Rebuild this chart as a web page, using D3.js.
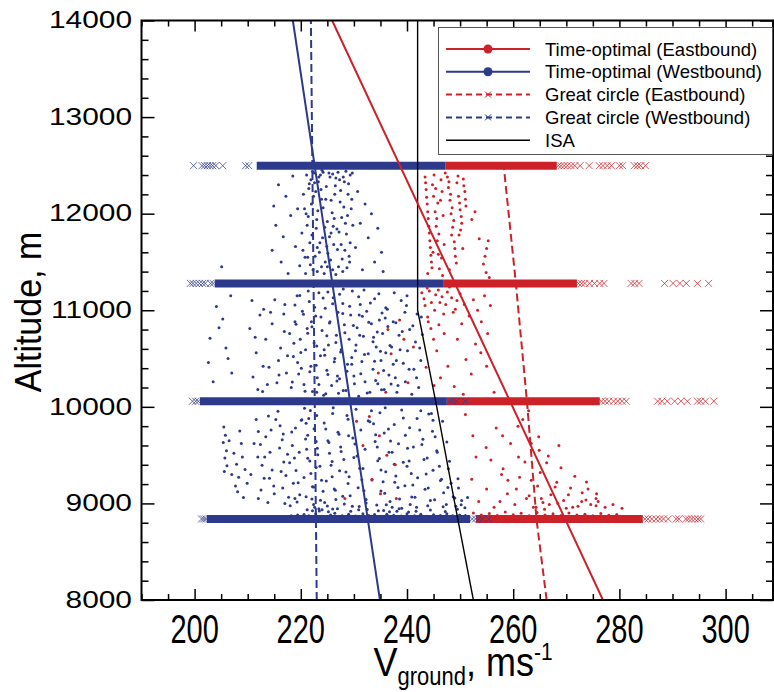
<!DOCTYPE html>
<html>
<head>
<meta charset="utf-8">
<script src="https://cdn.jsdelivr.net/npm/d3@7"></script>
<style>
  body { margin: 0; background: #fff; }
  svg { display: block; font-family: "Liberation Sans", Arial, sans-serif; }
</style>
</head>
<body>
<div id="chart"></div>
<script>
// ---- data ----
const xMajor = [200, 220, 240, 260, 280, 300];
const xMinor = [190, 195, 205, 210, 215, 225, 230, 235, 245, 250, 255, 265, 270, 275, 285, 290, 295, 305];
const yMajor = [8000, 9000, 10000, 11000, 12000, 13000, 14000];
const yMinor = [8200, 8400, 8600, 8800, 9200, 9400, 9600, 9800, 10200, 10400, 10600, 10800,
  11200, 11400, 11600, 11800, 12200, 12400, 12600, 12800, 13200, 13400, 13600, 13800];

// time-optimal bands: [altitude, v from, v to]
const westBands = [[8839, 202.3, 251.9], [10058, 201.0, 247.5], [11278, 203.8, 246.8], [12497, 211.7, 247.2]];
const eastBands = [[8839, 253.0, 284.4], [10058, 247.5, 276.3], [11278, 246.8, 272.0], [12497, 247.2, 268.2]];

// great circle crosses [v, altitude]
const westCross = [
  [201.3, 8839], [201.7, 8839], [202.1, 8839], [252.3, 8839], [252.9, 8839], [253.5, 8839], [254.2, 8839], [255.4, 8839],
  [199.6, 10058], [200.2, 10058], [200.7, 10058], [248.1, 10058], [248.7, 10058], [249.3, 10058], [251.0, 10058],
  [199.2, 11278], [199.7, 11278], [200.3, 11278], [200.9, 11278], [201.5, 11278], [202.0, 11278], [203.0, 11278], [203.5, 11278],
  [199.8, 12497], [201.4, 12497], [201.9, 12497], [202.4, 12497], [202.9, 12497], [203.4, 12497], [204.0, 12497], [205.3, 12497], [209.6, 12497], [210.2, 12497]
];
const eastCross = [
  [268.5, 12497], [269.0, 12497], [269.6, 12497], [270.2, 12497], [270.9, 12497], [271.6, 12497], [272.6, 12497], [274.3, 12497],
  [276.2, 12497], [276.9, 12497], [277.7, 12497], [278.5, 12497], [280.0, 12497], [280.6, 12497], [282.8, 12497], [283.4, 12497], [284.0, 12497], [284.9, 12497],
  [272.3, 11278], [272.9, 11278], [273.5, 11278], [274.4, 11278], [275.3, 11278], [276.3, 11278], [277.1, 11278], [282.2, 11278], [282.9, 11278], [283.7, 11278],
  [288.5, 11278], [290.1, 11278], [291.4, 11278], [292.6, 11278], [294.7, 11278], [296.8, 11278],
  [276.6, 10058], [277.3, 10058], [278.0, 10058], [278.9, 10058], [279.7, 10058], [280.5, 10058], [281.3, 10058], [287.2, 10058], [288.0, 10058],
  [289.0, 10058], [290.4, 10058], [291.6, 10058], [292.8, 10058], [294.7, 10058], [295.3, 10058], [296.2, 10058], [297.8, 10058],
  [284.8, 8839], [285.4, 8839], [286.1, 8839], [286.9, 8839], [287.6, 8839], [288.3, 8839], [289.2, 8839], [290.7, 8839],
  [291.2, 8839], [292.5, 8839], [293.0, 8839], [293.6, 8839], [294.2, 8839], [294.8, 8839], [295.3, 8839]
];

// scattered time-optimal points between flight levels [v, altitude]
const westScatter = [
  [205.5, 9790], [205.8, 9705], [205.4, 9630], [206.0, 9545], [205.7, 9470], [206.1, 9390], [205.6, 9330],
  [207.4, 9520], [207.9, 9405], [208.3, 9270], [207.7, 9180], [208.8, 9620], [209.5, 9350], [209.9, 9210], [209.2, 9060], [208.1, 9120],
  [211.6, 9870], [212.0, 9745], [212.4, 9610], [211.9, 9480], [212.7, 9395], [213.1, 9260], [212.5, 9140], [213.8, 9010], [213.4, 9690], [214.2, 9530], [214.6, 9345], [213.9, 9905], [214.9, 9180],
  [215.7, 9955], [216.1, 9805], [216.5, 9660], [216.0, 9575], [216.8, 9430], [217.2, 9290], [216.6, 9160], [217.7, 9065], [218.0, 8975], [218.4, 9600], [218.8, 9470],
  [219.1, 9340], [219.5, 9215], [219.8, 9090], [220.1, 9860], [218.3, 9740], [217.5, 9510], [219.3, 9015],
  [220.7, 9985], [221.0, 9830], [221.3, 9705], [221.1, 9560], [221.7, 9440], [221.9, 9310], [222.4, 9170], [222.1, 9045], [222.6, 8960], [222.9, 9640], [223.2, 9505],
  [223.6, 9385], [223.9, 9240], [224.2, 9125], [224.5, 9010], [223.0, 9910], [224.7, 9770], [225.1, 9650], [225.4, 9520], [225.7, 9395], [225.9, 9275], [226.3, 9150],
  [226.6, 9040], [226.9, 8945], [227.2, 9715], [227.5, 9585], [224.0, 8935], [225.2, 8915], [223.4, 8945], [222.2, 8925], [221.5, 9880], [226.1, 9990],
  [228.1, 9455], [228.5, 9325], [228.9, 9205], [229.3, 9080], [229.7, 8970], [230.2, 9615], [230.6, 9490], [231.1, 9365], [231.5, 9245], [231.9, 9130], [232.3, 9005],
  [232.7, 9855], [228.7, 9910], [230.9, 8935], [229.0, 9700],
  [233.3, 9960], [233.7, 9825], [234.1, 9710], [234.4, 9585], [234.8, 9465], [235.1, 9345], [235.5, 9225], [235.8, 9105], [236.1, 8985], [236.5, 9770], [236.9, 9645],
  [237.2, 9530], [237.6, 9405], [237.9, 9285], [238.3, 9165], [238.6, 9045], [239.0, 8950], [239.3, 9885], [239.7, 9705], [240.1, 9570], [240.4, 9440], [240.8, 9310],
  [241.1, 9190], [241.5, 9065], [241.8, 8960], [234.6, 8925], [236.7, 8915], [238.1, 8920], [240.3, 8910], [235.9, 9990],
  [242.4, 9760], [242.8, 9610], [243.2, 9455], [243.6, 9305], [244.0, 9160], [244.4, 9030], [244.9, 9860], [245.3, 9690], [245.7, 9530], [246.1, 9385], [246.5, 9250],
  [246.9, 9110], [247.4, 8990], [247.8, 9360], [248.3, 9210], [248.7, 9070], [249.2, 8970], [249.7, 9160], [250.3, 9030], [250.9, 8955], [251.4, 9060], [242.6, 9960], [244.6, 9930],
  [220.6, 8885], [221.5, 8872], [222.8, 8893], [223.9, 8868], [225.6, 8880], [226.4, 8897], [227.8, 8872], [229.0, 8888], [230.3, 8870], [231.7, 8893], [232.8, 8875],
  [233.9, 8884], [235.3, 8867], [236.2, 8889], [237.5, 8877], [238.9, 8870], [240.0, 8893], [241.4, 8872], [242.6, 8888], [243.7, 8868], [245.0, 8882], [246.3, 8874],
  [247.5, 8892], [248.6, 8872], [249.9, 8881], [251.0, 8876], [219.4, 8880], [218.2, 8872],
  [202.6, 10460], [202.9, 10710], [203.5, 10260], [204.1, 11040], [205.3, 10910], [205.9, 10610], [206.3, 10500], [207.0, 10350], [206.8, 11150], [204.6, 10820],
  [210.4, 10810], [211.0, 10310], [211.6, 10560], [212.3, 10950], [212.8, 10160], [213.4, 10700], [214.0, 10410], [214.6, 10860], [215.1, 11110], [215.5, 10250],
  [216.2, 10610], [216.8, 10960], [217.3, 10350], [217.9, 10760], [218.2, 10200], [213.0, 11010], [211.9, 10180], [215.8, 10480], [217.0, 11060],
  [218.6, 10520], [218.9, 10880], [219.3, 11150], [219.6, 10340], [219.9, 10700], [220.3, 10990], [220.6, 10230], [220.9, 10590], [221.2, 10810], [221.6, 11090],
  [221.9, 10420], [222.2, 10160], [222.5, 10660], [222.8, 10940], [223.1, 10300], [223.4, 11180], [223.7, 10530], [224.0, 10790], [224.3, 10120], [224.6, 11020],
  [224.9, 10380], [225.2, 10640], [225.5, 10880], [225.8, 10220], [226.1, 11130], [226.4, 10500], [226.7, 10740], [227.0, 10980], [227.3, 10290], [227.6, 10590],
  [227.9, 11070], [228.2, 10850], [228.5, 10170], [228.8, 10440], [229.1, 10700], [229.4, 10950], [229.7, 11200], [230.0, 10320], [230.3, 10580], [230.6, 10820],
  [230.9, 10110], [231.2, 11060], [231.5, 10470], [231.8, 10730], [232.1, 10260], [232.4, 10990], [232.7, 10550], [233.0, 10150], [233.3, 10860], [233.6, 10390],
  [233.9, 11120], [234.2, 10620], [234.5, 10240], [234.8, 10900], [235.1, 10480], [235.4, 10760], [235.7, 10180], [236.0, 10560], [236.3, 11010], [236.6, 10330],
  [220.1, 10400], [222.0, 10880], [224.4, 10590], [226.9, 10320], [229.6, 10510], [231.0, 10950], [233.7, 10720], [235.9, 10920], [221.4, 11200], [225.1, 11190],
  [228.0, 11220], [231.9, 11210], [227.1, 10140], [223.0, 10150],
  [237.1, 10620], [237.4, 10880], [237.8, 10300], [238.1, 10150], [238.5, 10740], [238.9, 11100], [239.3, 10450], [239.7, 10260], [240.1, 10580], [240.5, 10800],
  [240.9, 10130], [241.3, 10390], [241.6, 10670], [241.9, 10960], [242.2, 10200], [242.6, 10480], [242.9, 10750], [237.6, 11180], [239.9, 11050], [238.0, 10480],
  [205.1, 11450], [214.6, 11620], [214.9, 12080], [215.3, 11880], [215.8, 12300], [216.3, 11500], [216.7, 11760], [217.2, 12180], [217.6, 11380], [218.1, 11980],
  [218.5, 12390], [219.0, 11660], [219.4, 12050], [219.8, 11460],
  [220.2, 11800], [220.5, 12200], [220.8, 11550], [221.1, 12400], [221.4, 11970], [221.7, 11700], [222.0, 12100], [222.3, 11420], [222.6, 12320], [222.9, 11850],
  [223.2, 12030], [223.5, 11600], [223.8, 12250], [224.1, 11750], [224.4, 11380], [224.7, 12150], [225.0, 11920], [225.3, 12420], [225.6, 11520], [225.9, 12010],
  [226.2, 11680], [226.5, 12290], [226.8, 11840], [227.1, 11450], [227.4, 12120], [227.7, 11960], [228.0, 12380], [228.3, 11620], [228.6, 11790], [228.9, 12200],
  [229.2, 11500], [229.5, 12050], [229.8, 11880],
  [221.9, 12350], [222.5, 12420], [223.4, 12380], [224.2, 12430], [226.0, 12410], [227.3, 12350], [228.5, 12440], [229.3, 12400], [224.9, 11660], [226.6, 11370],
  [223.1, 11400], [221.3, 11550], [227.9, 11400], [225.7, 11800], [223.9, 12150],
  [230.3, 11650], [230.7, 12230], [231.2, 11900], [231.6, 11420], [232.1, 12100], [232.7, 11750], [233.3, 12000], [233.9, 11500], [234.5, 11850], [235.2, 11600], [235.5, 11400]
];

// denser cores of the westbound cloud
const westCoreA = [
  [221.8, 9962], [226.0, 9931], [230.4, 9975], [234.9, 9940], [239.0, 9968], [244.1, 9925],
  [220.2, 9866], [224.4, 9832], [228.9, 9871], [233.0, 9845], [237.6, 9818], [241.9, 9880], [246.7, 9851],
  [222.5, 9772], [227.0, 9738], [231.3, 9761], [235.7, 9729], [240.5, 9784], [244.8, 9746],
  [220.9, 9668], [225.3, 9631], [229.8, 9677], [234.0, 9642], [238.4, 9619], [243.0, 9665], [247.5, 9636],
  [223.1, 9572], [227.6, 9538], [232.1, 9561], [236.6, 9529], [241.2, 9584], [245.6, 9546],
  [221.3, 9468], [225.9, 9433], [230.0, 9476], [234.5, 9441], [239.3, 9425], [243.8, 9470], [248.0, 9437],
  [222.9, 9372], [227.3, 9338], [231.7, 9361], [236.0, 9329], [240.0, 9384], [244.9, 9343],
  [220.6, 9268], [224.8, 9231], [229.1, 9275], [233.4, 9242], [237.7, 9219], [242.0, 9266], [246.3, 9238], [249.6, 9255],
  [222.2, 9172], [226.5, 9136], [230.8, 9161], [235.1, 9129], [239.6, 9183], [243.4, 9147], [247.7, 9164],
  [221.0, 9068], [223.7, 9032], [227.9, 9075], [232.3, 9041], [236.8, 9019], [240.9, 9066], [245.2, 9037], [249.0, 9055],
  [222.4, 8988], [225.0, 8972], [228.2, 8995], [231.0, 8968], [234.3, 8983], [237.2, 8961], [240.6, 8990], [243.9, 8975], [246.8, 8966], [250.2, 8985],
  [221.2, 8935], [223.5, 8922], [226.0, 8941], [229.4, 8918], [232.5, 8937], [235.6, 8926], [238.5, 8944], [241.7, 8920], [244.4, 8932], [247.2, 8917], [249.5, 8940],
  [215.3, 9870], [216.7, 9720], [217.9, 9420], [218.6, 9210], [219.7, 9530], [214.1, 9260], [213.2, 9480], [212.0, 9050], [210.6, 9300], [209.0, 9480],
  [207.0, 9300], [206.5, 9650], [215.0, 9100], [217.0, 9000], [219.0, 9780], [216.3, 9330], [218.9, 9050], [214.4, 9760], [211.2, 9620], [208.5, 9750]
];
const westCoreB = [
  [219.8, 11152], [224.2, 11128], [227.3, 11166], [230.9, 11139], [234.7, 11171],
  [218.9, 11054], [222.6, 11031], [226.0, 11068], [229.2, 11042], [233.1, 11075], [236.0, 11027],
  [220.5, 10958], [223.8, 10931], [227.9, 10966], [231.6, 10939], [235.3, 10972],
  [219.1, 10856], [222.1, 10829], [225.4, 10868], [229.9, 10842], [232.8, 10875], [236.4, 10833],
  [221.3, 10762], [224.9, 10735], [228.3, 10768], [231.1, 10741], [234.4, 10776],
  [218.7, 10658], [223.0, 10631], [226.6, 10667], [230.4, 10640], [233.6, 10673], [236.8, 10636],
  [220.0, 10562], [224.5, 10535], [227.5, 10569], [232.0, 10541], [235.0, 10575],
  [219.4, 10458], [222.9, 10431], [226.3, 10467], [229.6, 10440], [233.9, 10472],
  [221.7, 10362], [225.1, 10335], [228.7, 10369], [231.3, 10342], [235.6, 10376],
  [218.4, 10258], [223.4, 10231], [226.8, 10267], [230.1, 10240], [234.1, 10272], [237.0, 10236],
  [220.8, 10162], [224.7, 10135], [228.0, 10169], [232.5, 10142], [235.2, 10176],
  [211.4, 10720], [212.9, 10420], [214.3, 10980], [215.9, 10330], [216.9, 10780], [213.7, 10230], [210.8, 11100], [217.5, 10530],
  [237.9, 10870], [238.7, 10590], [239.6, 10980], [240.4, 10390], [241.1, 10840], [241.8, 10300], [242.4, 10610], [238.3, 10220],
  [240.0, 11150], [242.7, 10930], [239.1, 10780], [237.4, 10440]
];
const westCoreC = [
  [220.4, 11620], [220.7, 12050], [220.9, 11380], [221.2, 11880], [221.5, 12260], [221.8, 11470], [222.1, 11780], [222.4, 12180], [222.7, 11560], [223.0, 11940],
  [223.3, 12330], [223.6, 11700], [223.9, 11450], [224.2, 12060], [224.5, 11860], [224.8, 12280], [225.1, 11590], [225.4, 11760], [225.7, 12140], [226.0, 11420],
  [226.3, 11950], [226.6, 12370], [226.9, 11630], [227.2, 11810], [227.5, 12240], [227.8, 11530], [228.1, 12070], [228.4, 11900], [228.7, 11440], [229.0, 12310],
  [229.3, 11700], [229.6, 12150], [222.2, 12440], [223.7, 12400], [225.5, 12380], [227.0, 12430], [228.2, 12330], [229.7, 12420], [224.0, 12450], [226.4, 12200],
  [221.0, 12000], [223.1, 11650], [225.0, 11450], [227.6, 11680], [228.8, 11980], [222.8, 12230], [224.6, 11500], [226.1, 11870], [221.6, 12310], [229.1, 11560]
];

const eastScatter = [
  [243.4, 12380], [243.6, 12250], [243.8, 12100], [244.0, 11950], [244.2, 11800], [244.4, 11650], [244.6, 11500], [243.9, 11380], [244.8, 12300], [245.0, 12180],
  [245.3, 12020], [245.5, 11870], [245.7, 11720], [245.9, 11580], [246.1, 11430], [246.4, 12350], [246.6, 12230], [246.8, 11980], [247.0, 11680],
  [247.6, 12380], [247.8, 12270], [248.1, 12140], [248.3, 12000], [248.6, 11860], [248.9, 11710], [249.1, 11560], [249.4, 12320], [249.7, 12180], [250.0, 12040],
  [250.3, 11900], [250.6, 12360], [250.9, 12230], [251.1, 12080], [248.0, 11420], [250.5, 11640], [249.8, 11780],
  [252.2, 11940], [252.8, 12020], [253.6, 11740], [254.4, 11480], [254.7, 11560], [255.0, 11640], [255.3, 11720], [254.9, 11390], [255.5, 11340],
  [242.8, 11180], [243.4, 11050], [243.9, 10930], [244.5, 10810], [245.0, 10700], [245.6, 10580], [244.2, 11200], [245.4, 11160], [246.2, 11080], [246.9, 10960],
  [247.6, 11190], [248.4, 11130], [249.1, 11010], [250.0, 11170], [250.8, 11060], [251.7, 10940], [252.5, 11110], [253.3, 11000], [254.0, 10880], [254.6, 11150],
  [255.2, 10760], [255.7, 11050], [253.9, 10560], [251.1, 10490], [249.5, 10700], [247.7, 10420], [246.3, 10300], [248.9, 10210], [252.1, 10340], [255.0, 10420],
  [256.4, 10150], [245.1, 10220], [250.6, 10130], [243.6, 10410],
  [243.2, 11120], [243.8, 11230], [244.6, 11080], [245.2, 11000], [245.9, 11210], [246.6, 11140], [247.3, 11060], [248.0, 11240], [248.7, 10980], [249.4, 11100],
  [244.0, 10880], [246.0, 10850], [247.0, 10760], [252.9, 10650], [250.3, 10860],
  [243.5, 12320], [243.7, 12170], [243.9, 12020], [244.1, 11870], [244.3, 11720], [244.5, 11570], [244.7, 11440], [245.1, 12400], [245.4, 12260], [245.8, 12110],
  [246.0, 11790], [246.5, 11540], [246.7, 11360], [247.9, 12330], [248.2, 12200], [248.5, 12060], [248.8, 11930], [249.0, 11640], [249.3, 11490], [249.6, 12390],
  [249.9, 12110], [250.2, 11970], [250.7, 12290], [251.0, 12150], [244.9, 11600], [245.6, 11950], [246.3, 12140], [248.4, 11780], [250.1, 11830], [247.2, 12420],
  [251.0, 9920], [252.4, 9700], [253.0, 9480], [252.2, 9250], [254.9, 9580], [256.8, 9780], [258.1, 9360], [259.5, 9620], [260.6, 9150], [261.8, 9870],
  [262.2, 9430], [263.4, 9240], [264.8, 9690], [265.3, 9050], [266.6, 9490], [267.9, 9170], [269.0, 9370], [270.4, 9090], [271.6, 9280], [272.9, 9020],
  [274.1, 9150], [275.6, 9050], [257.5, 9020], [259.0, 9240], [262.9, 9960], [261.0, 9480], [273.8, 9222], [273.7, 9036], [275.7, 9100], [275.6, 8975],
  [252.5, 8900], [254.0, 8880], [255.5, 8895], [257.0, 8875], [258.5, 8910], [260.0, 8882], [261.5, 8897], [263.0, 8873], [264.5, 8905], [266.0, 8880],
  [267.5, 8893], [269.0, 8875], [270.5, 8900], [272.0, 8880], [273.5, 8888], [275.0, 8873], [276.5, 8895], [278.0, 8878], [279.5, 8886], [264.3, 8960],
  [266.8, 8990], [268.4, 9000], [271.2, 8960], [263.0, 9080], [265.9, 8940], [270.0, 8950],
  [253.5, 9020], [255.0, 9150], [256.4, 8960], [257.8, 9300], [258.9, 9100], [260.3, 8990], [261.2, 9270], [262.5, 9050], [263.8, 8960], [264.6, 9180],
  [265.1, 9320], [265.6, 9010], [266.3, 9420], [267.1, 9090], [268.2, 9220], [269.5, 9030], [270.8, 9160], [272.2, 8970], [273.0, 9110], [274.6, 8990],
  [276.0, 9020], [277.3, 8960], [278.8, 8990], [280.5, 8950], [264.9, 9550], [258.0, 9700], [255.8, 9450], [260.9, 9800], [268.6, 9600], [263.4, 9620],
  [231.7, 9600], [233.4, 9250], [235.0, 9100], [236.2, 9500], [237.8, 9400], [234.8, 9700], [232.9, 9900], [238.0, 9050], [230.5, 9850], [228.3, 9050],
  [236.4, 10800], [237.0, 10550], [238.6, 10900], [239.4, 10700], [240.2, 10250], [241.2, 10620], [234.6, 10350], [236.0, 10150]
];

// lines [v, altitude]
const eastOptimal = [[276.9, 8000], [251.4, 11000], [225.9, 14000]];
const westOptimal = [[234.9, 8000], [226.7, 11000], [218.5, 14000]];
const eastGreat = [[266.3, 8000], [264.4, 8830], [262.6, 10050], [260.5, 11280], [258.1, 12555]];
const westGreat = [[223.0, 8000], [221.9, 14000]];
const isaLine = [[252.5, 8000], [249.0, 9000], [245.6, 10000], [242.0, 11000], [242.0, 14000]];

const legendItems = ['Time-optimal (Eastbound)', 'Time-optimal (Westbound)', 'Great circle (Eastbound)', 'Great circle (Westbound)', 'ISA'];

// ---- setup ----
const RED = '#cd2129', BLUE = '#2d3a8b';
const W = 774, H = 692;
const m = { left: 141.5, top: 20.5, right: 773, bottom: 600 };

const svg = d3.select('#chart').append('svg').attr('width', W).attr('height', H);

const x = d3.scaleLinear().domain([190, 190 + (m.right - m.left) / 5.31]).range([m.left, m.right]);
const y = d3.scaleLinear().domain([8000, 14000]).range([m.bottom, m.top]);

svg.append('clipPath').attr('id', 'plot')
  .append('rect').attr('x', m.left).attr('y', m.top)
  .attr('width', m.right - m.left).attr('height', m.bottom - m.top);

const plot = svg.append('g').attr('clip-path', 'url(#plot)');

// bands of time-optimal flights at each flight level
function drawBands(data, color) {
  plot.append('g').selectAll('line').data(data).join('line')
    .attr('x1', d => x(d[1])).attr('x2', d => x(d[2]))
    .attr('y1', d => y(d[0])).attr('y2', d => y(d[0]))
    .attr('stroke', color).attr('stroke-width', 8);
}
drawBands(eastBands, RED);
drawBands(westBands, BLUE);

// great circle crosses
function drawCross(data, color) {
  const s = 3.5;
  plot.append('g').selectAll('path').data(data).join('path')
    .attr('d', d => {
      const cx = x(d[0]), cy = y(d[1]);
      return `M${cx - s},${cy - s}L${cx + s},${cy + s}M${cx - s},${cy + s}L${cx + s},${cy - s}`;
    })
    .attr('stroke', color).attr('stroke-width', 1).attr('opacity', 0.75).attr('fill', 'none');
}
drawCross(eastCross, RED);
drawCross(westCross, BLUE);

// scattered points
function drawDots(data, color) {
  plot.append('g').selectAll('circle').data(data).join('circle')
    .attr('cx', d => x(d[0])).attr('cy', d => y(d[1])).attr('r', 1.5)
    .attr('fill', color);
}
drawDots(westScatter.concat(westCoreA, westCoreB, westCoreC), BLUE);
drawDots(eastScatter, RED);

// lines
const line = d3.line().x(d => x(d[0])).y(d => y(d[1]));
function drawLine(data, color, width, dash) {
  plot.append('path').datum(data).attr('d', line)
    .attr('fill', 'none').attr('stroke', color).attr('stroke-width', width)
    .attr('stroke-dasharray', dash || null);
}
drawLine(isaLine, '#000', 1.4);
drawLine(westOptimal, BLUE, 2);
drawLine(eastOptimal, RED, 2);
drawLine(westGreat, BLUE, 2, '8,4');
drawLine(eastGreat, RED, 2, '8,4');

// ---- axes: inward ticks on all four sides ----
function addAxis(axis, tx, ty, size) {
  const g = svg.append('g').attr('transform', `translate(${tx},${ty})`)
    .call(axis.tickSizeInner(-size).tickSizeOuter(0).tickFormat(''));
  g.select('.domain').remove();
  g.selectAll('line').attr('stroke', '#000').attr('stroke-width', 1.5);
}
addAxis(d3.axisBottom(x).tickValues(xMajor), 0, m.bottom, 11);
addAxis(d3.axisBottom(x).tickValues(xMinor), 0, m.bottom, 6);
addAxis(d3.axisTop(x).tickValues(xMajor), 0, m.top, 11);
addAxis(d3.axisTop(x).tickValues(xMinor), 0, m.top, 6);
addAxis(d3.axisLeft(y).tickValues(yMajor), m.left, 0, 13);
addAxis(d3.axisLeft(y).tickValues(yMinor), m.left, 0, 7);
addAxis(d3.axisRight(y).tickValues(yMajor), m.right, 0, 13);
addAxis(d3.axisRight(y).tickValues(yMinor), m.right, 0, 7);

svg.append('rect').attr('x', m.left).attr('y', m.top)
  .attr('width', m.right - m.left).attr('height', m.bottom - m.top)
  .attr('fill', 'none').attr('stroke', '#000').attr('stroke-width', 2);

// tick labels (stretched like the original figure)
svg.append('g').selectAll('text').data(xMajor).join('text')
  .attr('transform', d => `translate(${x(d)},643) scale(1,1.38)`)
  .attr('text-anchor', 'middle').attr('font-size', 29).text(d => d);

svg.append('g').selectAll('text').data(yMajor).join('text')
  .attr('transform', d => `translate(132,${y(d)}) scale(1.3,1)`)
  .attr('text-anchor', 'end').attr('dominant-baseline', 'central')
  .attr('font-size', 23).text(d => d);

// axis titles
const xt = svg.append('text')
  .attr('transform', 'translate(463,676) scale(1,1.15)')
  .attr('text-anchor', 'middle').attr('font-size', 36);
xt.append('tspan').text('V');
xt.append('tspan').attr('font-size', 22).attr('dy', 8).text('ground');
xt.append('tspan').attr('dy', -8).text(', ms');
xt.append('tspan').attr('font-size', 21).attr('dy', -14).text('-1');

svg.append('text')
  .attr('transform', 'translate(41,312) rotate(-90) scale(1,1.1)')
  .attr('text-anchor', 'middle').attr('font-size', 34)
  .text('Altitude, m');

// ---- legend ----
const lg = svg.append('g');
lg.append('rect').attr('x', 438.5).attr('y', 27.5).attr('width', 334).attr('height', 127)
  .attr('fill', '#fff').attr('stroke', '#555').attr('stroke-width', 1);

const legendStyle = [
  { color: RED, dash: null, mark: 'dot' },
  { color: BLUE, dash: null, mark: 'dot' },
  { color: RED, dash: '6,4', mark: 'cross' },
  { color: BLUE, dash: '6,4', mark: 'cross' },
  { color: '#000', dash: null, mark: null, width: 1.4 }
];
const rows = lg.selectAll('g.row').data(legendItems).join('g').attr('class', 'row')
  .attr('transform', (d, i) => `translate(0,${49 + i * 22.8})`);
rows.append('line').attr('x1', 446).attr('x2', 530)
  .attr('stroke', (d, i) => legendStyle[i].color)
  .attr('stroke-width', (d, i) => legendStyle[i].width || 2)
  .attr('stroke-dasharray', (d, i) => legendStyle[i].dash);
rows.filter((d, i) => legendStyle[i].mark === 'dot').append('circle')
  .attr('cx', 488).attr('r', 4.5).attr('fill', (d, i) => i === 0 ? RED : BLUE);
rows.filter((d, i) => legendStyle[i].mark === 'cross').append('path')
  .attr('d', 'M485,-3L491,3M485,3L491,-3').attr('fill', 'none')
  .attr('stroke', (d, i) => i === 0 ? RED : BLUE).attr('stroke-width', 1);
rows.append('text').attr('x', 545).attr('dominant-baseline', 'central')
  .attr('font-size', 18.5).text(d => d);
</script>
</body>
</html>
